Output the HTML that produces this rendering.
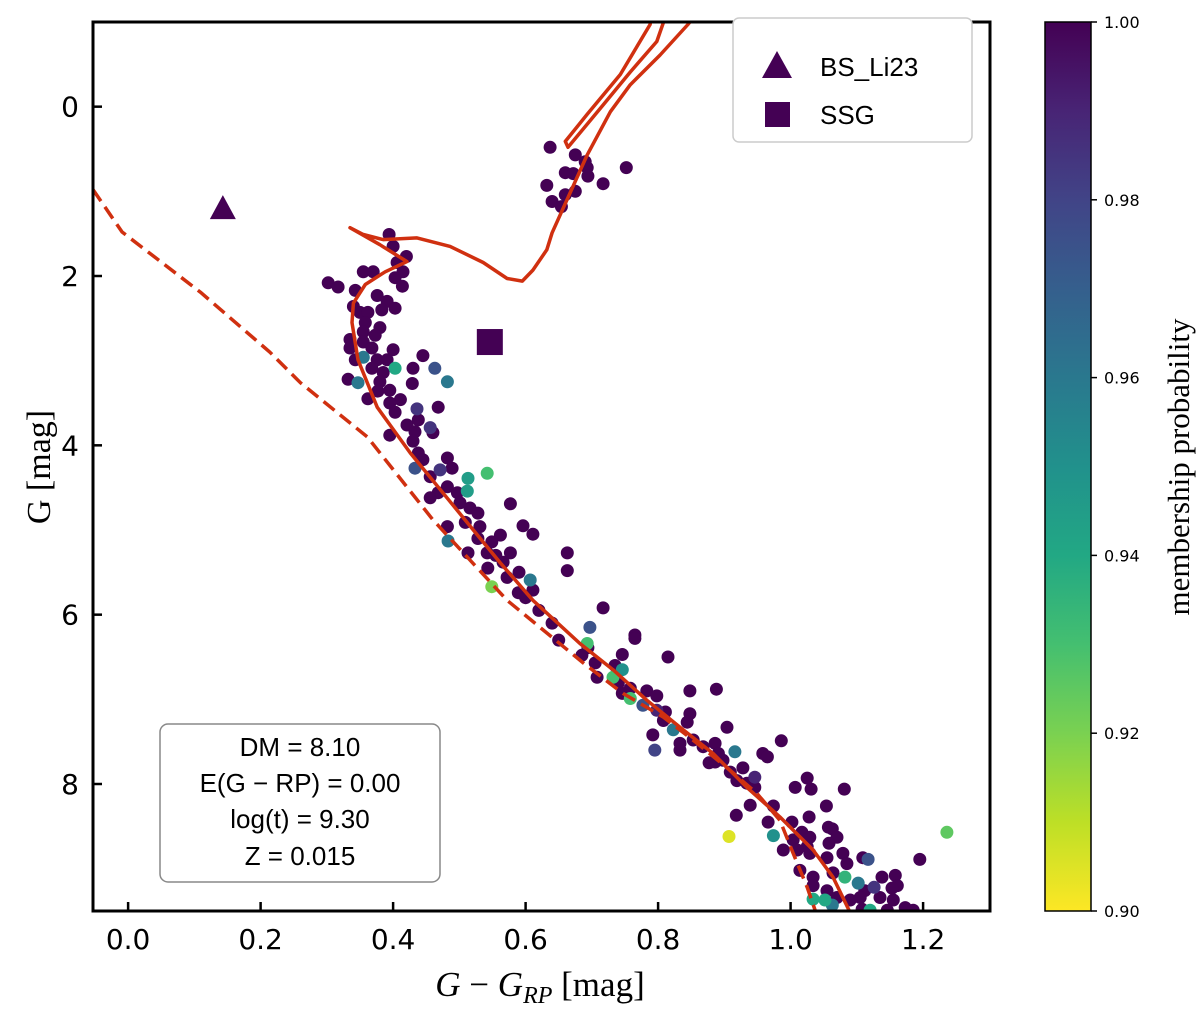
<!DOCTYPE html>
<html><head><meta charset="utf-8"><style>
html,body{margin:0;padding:0;background:#fff}
svg{display:block}
.tk{font-family:"DejaVu Sans","Liberation Sans",sans-serif;font-size:28px;fill:#000}
.cb{font-family:"DejaVu Sans","Liberation Sans",sans-serif;font-size:16px;fill:#000}
</style></head><body>
<svg id="chart" width="1200" height="1014" viewBox="0 0 1200 1014" xmlns="http://www.w3.org/2000/svg">
<defs>
<linearGradient id="vir" x1="0" y1="0" x2="0" y2="1">
<stop offset="0" stop-color="#440154"/><stop offset="0.1" stop-color="#482475"/><stop offset="0.2" stop-color="#414487"/><stop offset="0.3" stop-color="#355f8d"/><stop offset="0.4" stop-color="#2a788e"/><stop offset="0.5" stop-color="#21918c"/><stop offset="0.6" stop-color="#22a884"/><stop offset="0.7" stop-color="#44bf70"/><stop offset="0.8" stop-color="#7ad151"/><stop offset="0.9" stop-color="#bddf26"/><stop offset="1" stop-color="#fde725"/>
</linearGradient>
<clipPath id="clip"><rect x="93" y="22" width="897" height="889"/></clipPath>
</defs>
<g id="plot" clip-path="url(#clip)"></g>
<rect x="93" y="22" width="897" height="889" fill="none" stroke="#000" stroke-width="3"/>
<g id="ticks"></g>
<text x="540" y="996" text-anchor="middle" style="font-family:'Liberation Serif',serif;font-size:35px"><tspan font-style="italic">G</tspan> − <tspan font-style="italic">G</tspan><tspan font-style="italic" font-size="24" dy="7">RP</tspan><tspan dy="-7"> [mag]</tspan></text>
<text transform="translate(50,467) rotate(-90)" text-anchor="middle" style="font-family:'Liberation Serif',serif;font-size:34px">G [mag]</text>
<g>
<rect x="733" y="18" width="239" height="124" rx="6" fill="#fff" stroke="#ccc" stroke-width="1.5"/>
<polygon points="777,51 792,78 762,78" fill="#440154"/>
<text x="820" y="76" style="font-family:'Liberation Sans',sans-serif;font-size:26px">BS_Li23</text>
<rect x="765" y="102" width="25" height="25" fill="#440154"/>
<text x="820" y="124" style="font-family:'Liberation Sans',sans-serif;font-size:26px">SSG</text>
</g>
<g>
<rect x="160" y="724" width="280" height="158" rx="8" fill="#fff" stroke="#888" stroke-width="1.5"/>
<g style="font-family:'Liberation Sans',sans-serif;font-size:26px" text-anchor="middle">
<text x="300" y="756">DM = 8.10</text>
<text x="300" y="792">E(G − RP) = 0.00</text>
<text x="300" y="828">log(t) = 9.30</text>
<text x="300" y="865">Z = 0.015</text>
</g></g>
<g>
<rect x="1045" y="22" width="46" height="889" fill="url(#vir)" stroke="#000" stroke-width="1.5"/>
<g id="cbticks"></g>
<text transform="translate(1189,467) rotate(-90)" text-anchor="middle" style="font-family:'Liberation Serif',serif;font-size:31px">membership probability</text>
</g>
</svg>
<script>
const xTicks=[0.0,0.2,0.4,0.6,0.8,1.0,1.2];
const yTicks=[0,2,4,6,8];
const cbTicks=[1.00,0.98,0.96,0.94,0.92,0.90];
const starColor=[0.394,0.400,0.420,0.406,0.415,0.403,0.414,0.355,0.370,0.302,0.317,0.343,0.376,0.391,0.403,0.383,0.340,0.350,0.362,0.358,0.380,0.355,0.373,0.335,0.355,0.335,0.368,0.400,0.355,0.343,0.376,0.391,0.403,0.430,0.445,0.463,0.482,0.332,0.347,0.368,0.385,0.380,0.429,0.377,0.395,0.362,0.411,0.395,0.403,0.468,0.436,0.438,0.421,0.433,0.456,0.460,0.395,0.430,0.438,0.445,0.482,0.489,0.433,0.471,0.456,0.513,0.542,0.512,0.482,0.468,0.456,0.497,0.501,0.577,0.516,0.528,0.509,0.531,0.596,0.611,0.482,0.483,0.513,0.542,0.562,0.549,0.577,0.566,0.543,0.663,0.663,0.607,0.549,0.572,0.589,0.611,0.528,0.555,0.590,0.600,0.620,0.640,0.650,
0.717,0.697,0.693,0.694,0.685,0.705,0.746,0.765,0.765,0.815,0.735,0.746,0.708,0.732,0.740,0.758,0.746,0.783,0.758,0.798,0.777,0.798,0.811,0.848,0.888,0.848,0.844,0.808,0.823,0.792,0.795,0.833,0.833,0.904,0.853,0.868,0.886,0.891,0.916,0.877,0.898,0.886,0.909,0.928,0.919,0.946,0.946,0.934,0.958,0.965,0.986,0.939,0.974,0.918,0.966,0.907,0.974,1.007,1.025,1.031,1.081,1.054,1.028,1.002,1.017,1.004,1.029,1.057,1.063,1.070,1.058,1.025,1.010,0.989,1.029,1.055,1.079,1.085,1.109,1.117,1.034,1.014,1.064,1.082,1.034,1.055,1.070,1.102,1.112,1.126,1.138,1.158,1.161,1.153,1.135,1.155,1.173,1.185,1.195,1.236,1.052,1.063,1.034,1.090,1.105,1.146,1.120,1.108,
0.637,0.675,0.690,0.693,0.694,0.660,0.672,0.632,0.660,0.675,0.640,0.654,0.717,0.752];
const starMag=[1.51,1.65,1.77,1.84,1.95,2.02,2.12,1.95,1.95,2.08,2.13,2.17,2.23,2.30,2.38,2.40,2.36,2.43,2.43,2.55,2.61,2.66,2.70,2.75,2.78,2.85,2.85,2.87,2.96,2.99,2.99,2.99,3.09,3.09,2.94,3.09,3.25,3.22,3.26,3.09,3.14,3.25,3.27,3.36,3.35,3.45,3.46,3.50,3.61,3.55,3.57,3.70,3.76,3.84,3.79,3.85,3.88,3.95,4.09,4.17,4.15,4.27,4.27,4.29,4.37,4.39,4.33,4.54,4.49,4.56,4.62,4.56,4.68,4.69,4.74,4.80,4.91,4.96,4.95,5.05,4.96,5.13,5.27,5.27,5.06,5.14,5.27,5.38,5.45,5.27,5.48,5.59,5.67,5.56,5.74,5.71,5.10,5.30,5.50,5.80,5.95,6.10,6.30,
5.92,6.15,6.34,6.39,6.48,6.57,6.47,6.24,6.28,6.50,6.60,6.65,6.74,6.74,6.81,6.87,6.93,6.90,6.99,6.96,7.07,7.13,7.15,6.90,6.88,7.17,7.27,7.25,7.36,7.42,7.60,7.60,7.52,7.33,7.48,7.56,7.52,7.64,7.62,7.75,7.72,7.74,7.86,7.81,7.96,7.92,8.04,7.99,7.64,7.68,7.49,8.25,8.26,8.37,8.45,8.62,8.61,8.04,7.93,8.06,8.06,8.26,8.39,8.45,8.57,8.66,8.63,8.51,8.53,8.63,8.70,8.74,8.78,8.78,8.82,8.87,8.82,8.94,8.87,8.89,9.10,9.02,9.05,9.10,9.20,9.26,9.34,9.17,9.26,9.22,9.10,9.08,9.20,9.23,9.34,9.37,9.46,9.49,8.89,8.57,9.37,9.43,9.36,9.37,9.34,9.49,9.49,9.48,
0.48,0.57,0.65,0.72,0.82,0.78,0.79,0.93,1.04,1.00,1.12,1.18,0.91,0.72];
const lowProbIndex=[28,32,35,36,38,50,54,62,63,65,66,67,81,91,92,104,105,114,116,121,123,124,131,133,141,148,158,159,182,186,190,192,202,203,204,205,209];
const lowProbValue=[0.96,0.94,0.975,0.96,0.96,0.985,0.985,0.975,0.985,0.945,0.93,0.945,0.96,0.96,0.92,0.975,0.93,0.95,0.93,0.93,0.975,0.99,0.96,0.98,0.96,0.99,0.905,0.95,0.975,0.935,0.96,0.985,0.925,0.94,0.96,0.94,0.94];
const bsColor=[0.143], bsMag=[1.21];
const ssgColor=[0.546], ssgMag=[2.78];
const isoColor=[1.090,1.064,1.034,0.984,0.934,0.883,0.833,0.783,0.732,0.682,0.611,0.562,0.521,0.475,0.426,0.376,0.347,0.338,0.340,0.358,0.388,0.421,0.380,0.335,0.355,0.385,0.436,0.486,0.536,0.572,0.595,0.611,0.632,0.640,0.693,0.728,0.758,0.803,0.845,0.863];
const isoMag=[9.52,9.10,8.78,8.39,8.04,7.64,7.33,7.01,6.65,6.34,5.83,5.39,5.00,4.56,4.09,3.55,2.99,2.55,2.32,2.10,1.95,1.83,1.63,1.43,1.51,1.57,1.55,1.65,1.84,2.03,2.06,1.93,1.69,1.49,0.57,0.06,-0.26,-0.61,-0.97,-1.15];
const loopColor=[0.791,0.788,0.743,0.693,0.660,0.664,0.717,0.758,0.798,0.815];
const loopMag=[-1.15,-0.97,-0.38,0.09,0.41,0.48,-0.02,-0.41,-0.77,-1.15];
const zamsColor=[-0.053,-0.009,0.109,0.214,0.260,0.361,0.460,0.572,0.687,0.747,0.808,0.859,0.909,0.949,0.984,1.004,1.025,1.037];
const zamsMag=[0.98,1.48,2.19,2.90,3.26,3.90,4.88,5.83,6.57,6.93,7.21,7.52,7.84,8.11,8.43,8.82,9.22,9.49];

const NS='http://www.w3.org/2000/svg';
const X0=93,X1=990,Y0=22,Y1=911,XMIN=-0.053,XMAX=1.301,YMIN=-1.0,YMAX=9.5;
const sx=v=>X0+(v-XMIN)/(XMAX-XMIN)*(X1-X0);
const sy=v=>Y0+(v-YMIN)/(YMAX-YMIN)*(Y1-Y0);
const CB0=22,CB1=911;
const cby=p=>CB0+(1.0-p)/0.1*(CB1-CB0);
const stops=[[68,1,84],[72,36,117],[65,68,135],[53,95,141],[42,120,142],[33,145,140],[34,168,132],[68,191,112],[122,209,81],[189,223,38],[253,231,37]];
function vir(p){let t=Math.max(0,Math.min(1,(1-p)/0.1))*10;let i=Math.min(9,Math.floor(t)),f=t-i;const a=stops[i],b=stops[i+1];
return 'rgb('+a.map((v,k)=>Math.round(v+(b[k]-v)*f)).join(',')+')';}
function mk(tag,attrs,parent){const e=document.createElementNS(NS,tag);for(const k in attrs)e.setAttribute(k,attrs[k]);parent.appendChild(e);return e;}
const plot=document.getElementById('plot'),ticks=document.getElementById('ticks'),cbt=document.getElementById('cbticks');

function line(cs,ms,dash,name){let d='';cs.forEach((c,i)=>{d+=(i?'L':'M')+sx(c).toFixed(1)+','+sy(ms[i]).toFixed(1);});
const p=mk('path',{d:d,fill:'none',stroke:'#d03010','stroke-width':3.5,'stroke-linejoin':'round','stroke-linecap':'round'},plot);
if(dash){p.setAttribute('stroke-dasharray','14,7');p.setAttribute('stroke-linecap','butt');}

}

const prob=starColor.map(()=>1.0);
lowProbIndex.forEach((idx,k)=>{prob[idx]=lowProbValue[k];});
const order=starColor.map((_,i)=>i).sort((a,b)=>prob[b]-prob[a]);
order.forEach(i=>{const c=mk('circle',{cx:sx(starColor[i]).toFixed(1),cy:sy(starMag[i]).toFixed(1),r:6.5,fill:vir(prob[i])},plot);

});

line(zamsColor,zamsMag,true,'zams-dashed-line');
line(isoColor,isoMag,false,'isochrone-line');
line(loopColor,loopMag,false,'isochrone-agb-loop');

bsColor.forEach((c,i)=>{const x=sx(c),y=sy(bsMag[i]);const t=mk('polygon',{points:`${x},${y-14} ${x+13},${y+10} ${x-13},${y+10}`,fill:'#440154'},plot);

});
ssgColor.forEach((c,i)=>{const x=sx(c),y=sy(ssgMag[i]);const s=mk('rect',{x:x-13,y:y-13,width:26,height:26,fill:'#440154'},plot);

});

xTicks.forEach(v=>{const x=sx(v);const l=mk('line',{x1:x,x2:x,y1:Y1,y2:Y1-9,stroke:'#000','stroke-width':2.5},ticks);


const t=mk('text',{x:x,y:Y1+38,'text-anchor':'middle','class':'tk'},ticks);t.textContent=v.toFixed(1);

});
yTicks.forEach(v=>{const y=sy(v);const l=mk('line',{x1:X0,x2:X0+9,y1:y,y2:y,stroke:'#000','stroke-width':2.5},ticks);


const t=mk('text',{x:X0-14,y:y+10,'text-anchor':'end','class':'tk'},ticks);t.textContent=String(v);

});
cbTicks.forEach(v=>{const y=cby(v);const l=mk('line',{x1:1091,x2:1097,y1:y,y2:y,stroke:'#000','stroke-width':1.5},cbt);


const t=mk('text',{x:1104,y:y+6,'class':'cb'},cbt);t.textContent=v.toFixed(2);

});
</script>
</body></html>
